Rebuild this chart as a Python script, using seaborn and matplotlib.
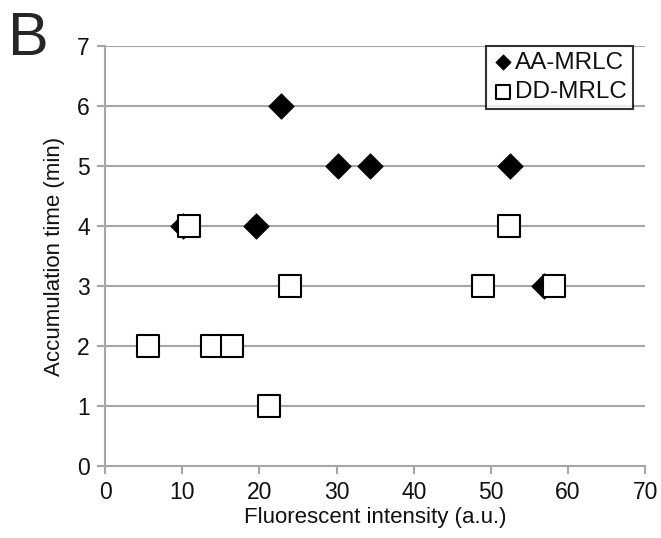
import pandas as pd
import matplotlib
matplotlib.use("Agg")
import matplotlib.pyplot as plt
import seaborn as sns

# AA-MRLC (filled diamonds)
aa_x = [22.8, 30.2, 34.4, 52.5, 10.1, 19.5, 56.9]
aa_y = [6, 5, 5, 5, 4, 4, 3]
# DD-MRLC (open squares)
dd_x = [10.9, 52.3, 24.0, 49.0, 58.2, 5.6, 13.9, 16.5, 21.3]
dd_y = [4, 4, 3, 3, 3, 2, 2, 2, 1]

x_ticks = [0, 10, 20, 30, 40, 50, 60, 70]
y_ticks = [0, 1, 2, 3, 4, 5, 6, 7]

df_aa = pd.DataFrame({'x': aa_x, 'y': aa_y, 'group': 'AA-MRLC'})
df_dd = pd.DataFrame({'x': dd_x, 'y': dd_y, 'group': 'DD-MRLC'})

sns.set_style("white")
plt.rcParams['font.family'] = ['Liberation Sans', 'DejaVu Sans']

fig = plt.figure(figsize=(6.61, 5.38), dpi=100)
ax = fig.add_axes([0.159, 0.134, 0.817, 0.7805])

for y in y_ticks[1:]:
    ax.axhline(y, color='#a6a6a6', lw=1.5, zorder=0)

sns.scatterplot(data=df_aa, x='x', y='y', marker='D', s=170, color='black',
                edgecolor='black', linewidth=0.5, ax=ax, label='AA-MRLC', zorder=3)
sns.scatterplot(data=df_dd, x='x', y='y', marker='s', s=250, color='white',
                edgecolor='black', linewidth=1.5, ax=ax, label='DD-MRLC', zorder=4)

ax.set_xlim(0, 70)
ax.set_ylim(0, 7)
ax.set_xticks(x_ticks)
ax.set_yticks(y_ticks)
ax.tick_params(axis='both', labelsize=16.5, length=6, width=1.5, color='#a6a6a6',
               direction='out', left=True, bottom=True, pad=5, labelcolor='#111111')
for side in ['top', 'right']:
    ax.spines[side].set_visible(False)
for side in ['left', 'bottom']:
    ax.spines[side].set_color('#a6a6a6')
    ax.spines[side].set_linewidth(1.5)

ax.set_xlabel('Fluorescent intensity (a.u.)', fontsize=16, labelpad=2, color='#111111')
ax.set_ylabel('Accumulation time (min)', fontsize=16, labelpad=9, color='#111111')

leg = ax.legend(loc='upper right', bbox_to_anchor=(1.0, 1.03), fontsize=17.5,
                frameon=True, fancybox=False, edgecolor='black',
                handletextpad=0.05, borderpad=0.25, labelspacing=0.3,
                handlelength=0.9, markerscale=0.6)
leg.get_frame().set_linewidth(1.5)
for t in leg.get_texts():
    t.set_color('#111111')

fig.text(0.012, 0.897, 'B', fontsize=44)

fig.savefig('out.png', dpi=100)
